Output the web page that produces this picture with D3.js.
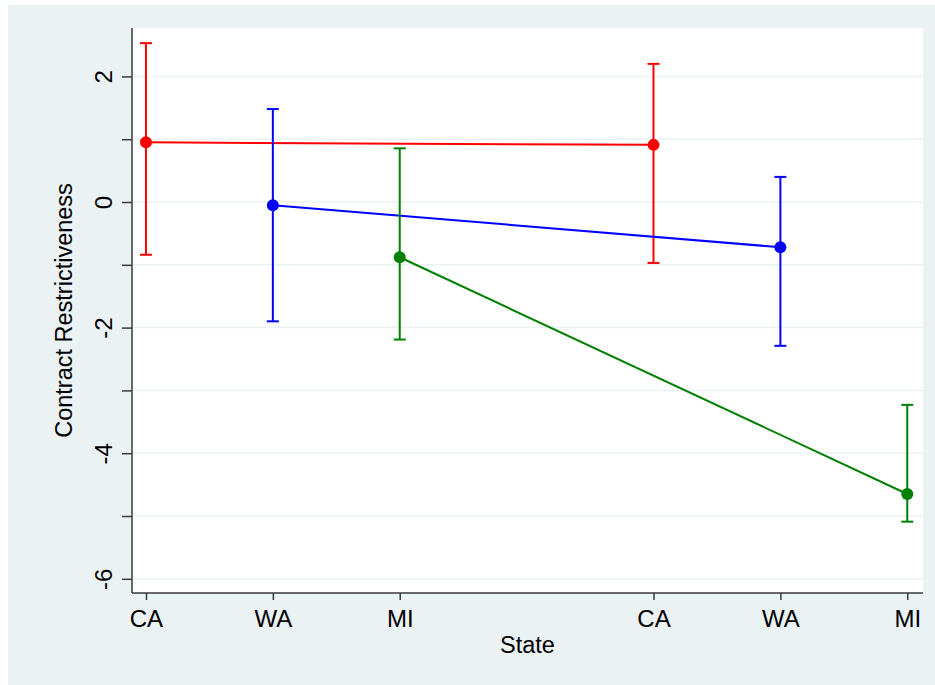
<!DOCTYPE html>
<html>
<head>
<meta charset="utf-8">
<script src="https://cdn.jsdelivr.net/npm/d3@7"></script>
<style>
  html, body { margin: 0; padding: 0; background: #ffffff; }
  svg { display: block; font-family: "Liberation Sans", Arial, Helvetica, sans-serif; }
</style>
</head>
<body>
<svg id="chart" width="935" height="685"></svg>
<script>
// ---- Data ----
const tickPositions = [1, 2, 3, 5, 6, 7];
const tickLabels = ["CA", "WA", "MI", "CA", "WA", "MI"];
const yTicksMajor = [-6, -4, -2, 0, 2];
const yTicksAll = [-6, -5, -4, -3, -2, -1, 0, 1, 2];

const seriesNames = ["CA", "WA", "MI"];
const caX = [1, 5];
const caEst = [0.95, 0.91];
const caLo = [-0.84, -0.97];
const caHi = [2.53, 2.20];

const waX = [2, 6];
const waEst = [-0.05, -0.72];
const waLo = [-1.90, -2.29];
const waHi = [1.48, 0.40];

const miX = [3, 7];
const miEst = [-0.88, -4.65];
const miLo = [-2.19, -5.09];
const miHi = [0.855, -3.23];

const xTitle = "State";
const yTitle = "Contract Restrictiveness";

// ---- Styles ----
const colors = { CA: "#ff0000", WA: "#0000ff", MI: "#008000" };

const series = [
  { name: "CA", x: caX, est: caEst, lo: caLo, hi: caHi },
  { name: "WA", x: waX, est: waEst, lo: waLo, hi: waHi },
  { name: "MI", x: miX, est: miEst, lo: miLo, hi: miHi }
];

const svg = d3.select("#chart");
const W = 935, H = 685;

// outer background
svg.append("rect").attr("x", 8).attr("y", 5).attr("width", W - 8).attr("height", H - 5)
  .attr("fill", "#eaf2f3");

const plot = { left: 132, top: 28, right: 923, bottom: 593 };

svg.append("rect").attr("x", plot.left).attr("y", plot.top)
  .attr("width", plot.right - plot.left).attr("height", plot.bottom - plot.top)
  .attr("fill", "#ffffff");

const x = d3.scaleLinear().domain([0.89, 7.124]).range([plot.left, plot.right]);
const y = d3.scaleLinear().domain([-6.226, 2.771]).range([plot.bottom, plot.top]);

// gridlines
svg.append("g").selectAll("line").data(yTicksAll).join("line")
  .attr("x1", plot.left).attr("x2", plot.right)
  .attr("y1", d => y(d)).attr("y2", d => y(d))
  .attr("stroke", "#eaf2f3").attr("stroke-width", 1.5);

// y axis
const yAxis = d3.axisLeft(y).tickValues(yTicksAll).tickSize(10)
  .tickFormat(d => yTicksMajor.includes(d) ? d3.format("d")(d).replace("−", "-") : "");
const gy = svg.append("g").attr("transform", `translate(${plot.left},0)`).call(yAxis);
gy.select(".domain").attr("stroke", "#3a3a3a").attr("stroke-width", 1.5)
  .attr("d", `M0,${plot.top}V${plot.bottom}`);
gy.selectAll(".tick line").attr("stroke", "#3a3a3a").attr("stroke-width", 1.5);
gy.selectAll(".tick text")
  .attr("font-size", 24).attr("fill", "#000")
  .attr("transform", "rotate(-90)")
  .attr("x", 0).attr("y", -20).attr("dy", 0)
  .attr("text-anchor", "middle");

// x axis
const xAxis = d3.axisBottom(x).tickValues(tickPositions).tickSize(7)
  .tickFormat((d, i) => tickLabels[i]);
const gx = svg.append("g").attr("transform", `translate(0,${plot.bottom})`).call(xAxis);
gx.select(".domain").attr("stroke", "#3a3a3a").attr("stroke-width", 1.5)
  .attr("d", `M${plot.left},0H${plot.right}`);
gx.selectAll(".tick line").attr("stroke", "#3a3a3a").attr("stroke-width", 1.5);
gx.selectAll(".tick text").attr("font-size", 24).attr("fill", "#000")
  .attr("y", 34).attr("dy", 0);

// axis titles
svg.append("text").attr("x", (plot.left + plot.right) / 2).attr("y", 653)
  .attr("text-anchor", "middle").attr("font-size", 23.5).attr("fill", "#000").text(xTitle);
svg.append("text").attr("transform", `translate(72,${(plot.top + plot.bottom) / 2}) rotate(-90)`)
  .attr("text-anchor", "middle").attr("font-size", 23.5).attr("fill", "#000").text(yTitle);

// series
const capHalf = 6;
series.forEach(s => {
  const c = colors[s.name];
  const g = svg.append("g");
  const pts = s.x.map((xv, i) => ({ x: xv, est: s.est[i], lo: s.lo[i], hi: s.hi[i] }));
  // connecting line
  g.append("path").datum(pts)
    .attr("d", d3.line().x(d => x(d.x)).y(d => y(d.est)))
    .attr("fill", "none").attr("stroke", c).attr("stroke-width", 2);
  // error bars
  g.selectAll(".eb").data(pts).join("line")
    .attr("x1", d => x(d.x)).attr("x2", d => x(d.x))
    .attr("y1", d => y(d.lo)).attr("y2", d => y(d.hi))
    .attr("stroke", c).attr("stroke-width", 2);
  ["lo", "hi"].forEach(k => {
    g.selectAll(".cap" + k).data(pts).join("line")
      .attr("x1", d => x(d.x) - capHalf).attr("x2", d => x(d.x) + capHalf)
      .attr("y1", d => y(d[k])).attr("y2", d => y(d[k]))
      .attr("stroke", c).attr("stroke-width", 2);
  });
  // markers
  g.selectAll("circle").data(pts).join("circle")
    .attr("cx", d => x(d.x)).attr("cy", d => y(d.est)).attr("r", 6)
    .attr("fill", c);
});
</script>
</body>
</html>
